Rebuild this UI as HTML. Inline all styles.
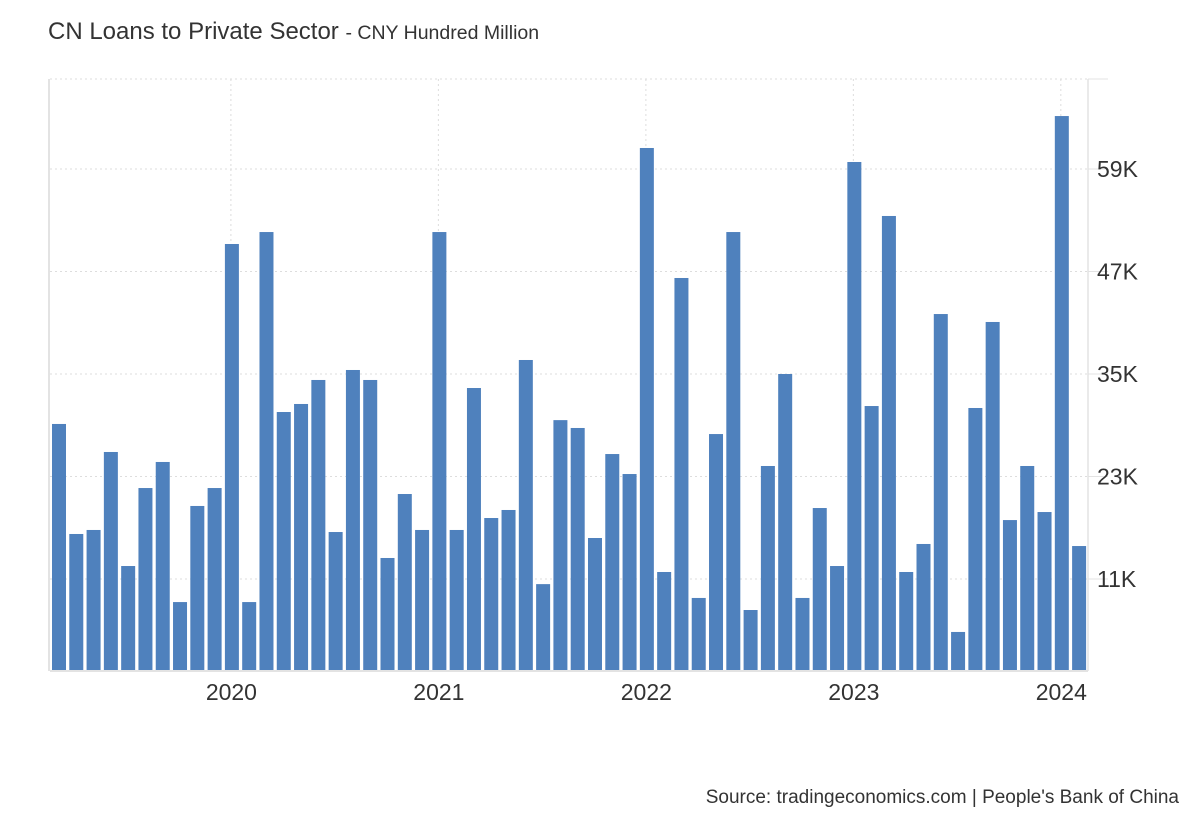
<!DOCTYPE html>
<html><head><meta charset="utf-8"><style>
body{margin:0;background:#fff;font-family:"Liberation Sans",Arial,sans-serif;}
svg text{font-family:"Liberation Sans",Arial,sans-serif;}
</style></head><body>
<svg id="chart" width="1200" height="820" xmlns="http://www.w3.org/2000/svg">
<text x="48" y="39" font-size="24" fill="#333">CN Loans to Private Sector <tspan font-size="19.5">- CNY Hundred Million</tspan></text>
<g id="grid"></g>
<g id="bars"></g>
<g id="axes"></g>
<text x="1179" y="803" font-size="19" fill="#333" text-anchor="end">Source: tradingeconomics.com | People's Bank of China</text>
</svg>
<script>
const months = Array.from({length:60},(_,i)=>i); // Mar 2019 .. Feb 2024
const values = [29150,16270,16740,25870,12520,21650,24700,8300,19550,21650,50220,8300,51620,30550,31490,34300,16500,35470,34300,13460,20950,16740,51620,16740,33360,18140,19080,36640,10400,29600,28680,15800,25630,23290,61460,11820,46240,8780,27970,51620,7370,24230,35000,8780,19310,12520,59820,31250,53500,11820,15100,42020,4800,31020,41090,17900,24230,18840,65200,14860];
const yTicks = [11000,23000,35000,47000,59000];
const yTickLabels = ["11K","23K","35K","47K","59K"];
const xTickIdx = [10,22,34,46,58];
const xTickLabels = ["2020","2021","2022","2023","2024"];

const NS="http://www.w3.org/2000/svg";
const xs=i=>59+i*17.29;
const ys=v=>579-(v-11000)*102.5/12000;
function mk(tag,attrs,parent){const e=document.createElementNS(NS,tag);for(const k in attrs)e.setAttribute(k,attrs[k]);document.getElementById(parent).appendChild(e);return e;}

yTicks.forEach((t,i)=>{
  const l=mk('line',{x1:50,x2:1088,y1:ys(t),y2:ys(t),stroke:'#ddd','stroke-dasharray':'2,3'},'grid');
  
  
  const tk=mk('line',{x1:1088,x2:1108,y1:ys(t),y2:ys(t),stroke:'#e3e3e3'},'axes');
  
  
  const tx=mk('text',{x:1097,y:ys(t)+8,'font-size':23,fill:'#333'},'axes');
  tx.textContent=yTickLabels[i];
  
  
});
const topLine=mk('line',{x1:50,x2:1088,y1:79,y2:79,stroke:'#ddd','stroke-dasharray':'2,3'},'grid');


xTickIdx.forEach((m,i)=>{
  const l=mk('line',{x1:xs(m)-1,x2:xs(m)-1,y1:79,y2:670,stroke:'#ddd','stroke-dasharray':'2,3'},'grid');
  
  
  const tx=mk('text',{x:xs(m)-0.5,y:700,'font-size':23,fill:'#333','text-anchor':'middle'},'axes');
  tx.textContent=xTickLabels[i];
  
  
});
months.forEach(i=>{
  const v=values[i];
  const r=mk('rect',{x:xs(i)-7,y:ys(v),width:14,height:670-ys(v),fill:'#4f81bd'},'bars');
  
  
});
const ax=mk('line',{x1:50,x2:1088,y1:671,y2:671,stroke:'#e3e3e3','stroke-width':2},'axes');


const la=mk('line',{x1:49,x2:49,y1:79,y2:671,stroke:'#e3e3e3','stroke-width':2},'axes');


const ra=mk('line',{x1:1088,x2:1088,y1:79,y2:671,stroke:'#e3e3e3','stroke-width':1.5},'axes');


const rt=mk('line',{x1:1088,x2:1108,y1:79,y2:79,stroke:'#e3e3e3'},'axes');


</script>
</body></html>
